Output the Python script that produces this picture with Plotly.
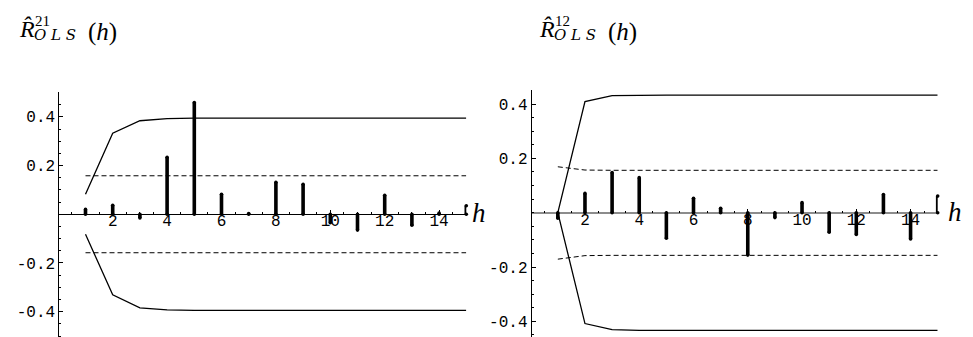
import numpy as np
import plotly.graph_objects as go

W, H = 973, 337
OFF = 8  # default page body margin

# lags
lags = list(range(1, 16))

# left panel: R^21_OLS(h)
r21 = [0.02, 0.037, -0.015, 0.234, 0.459, 0.082, 0.003, 0.131, 0.123,
       -0.035, -0.065, 0.078, -0.045, 0.005, 0.035]
band21_up = [0.082, 0.333, 0.384, 0.393, 0.395, 0.395, 0.395, 0.395,
             0.395, 0.395, 0.395, 0.395, 0.395, 0.395, 0.395]
band21_lo = [-0.082, -0.331, -0.384, -0.393, -0.395, -0.395, -0.395, -0.395,
             -0.395, -0.395, -0.395, -0.395, -0.395, -0.395, -0.395]
dash21_up = [0.158] * 15
dash21_lo = [-0.158] * 15

# right panel: R^12_OLS(h)
r12 = [-0.02, 0.071, 0.148, 0.129, -0.094, 0.053, 0.016, -0.156, -0.018,
       0.037, -0.072, -0.08, 0.067, -0.097, 0.061]
band12_up = [0.0, 0.409, 0.431, 0.433, 0.433, 0.433, 0.433, 0.433,
             0.433, 0.433, 0.433, 0.433, 0.433, 0.433, 0.433]
band12_lo = [0.0, -0.408, -0.430, -0.433, -0.433, -0.433, -0.433, -0.433,
             -0.433, -0.433, -0.433, -0.433, -0.433, -0.433, -0.433]
dash12_up = [0.169, 0.157, 0.156, 0.156, 0.156, 0.156, 0.156, 0.156,
             0.156, 0.156, 0.156, 0.156, 0.156, 0.156, 0.156]
dash12_lo = [-0.171, -0.158, -0.157, -0.157, -0.157, -0.157, -0.157, -0.157,
             -0.157, -0.157, -0.157, -0.157, -0.157, -0.157, -0.157]

x_ticks = [2, 4, 6, 8, 10, 12, 14]
y_ticks = [-0.4, -0.2, 0.2, 0.4]
y_ticktext = ["-0.4", "-0.2", "0.2", "0.4"]

MONO = "Liberation Mono"
SERIF = "Liberation Serif"


def px(x):
    return (x - OFF) / W


def py(y):
    return 1 - (y - OFF) / H


def stems(x, v):
    xs, ys = [], []
    for a, b in zip(x, v):
        xs += [a, a, None]
        ys += [0, b, None]
    return xs, ys


fig = go.Figure()

panels = [
    # axes, data, bands, x domain px, top/bottom px, y range, zero px, zero line style
    ("x", "y", r21, band21_up, band21_lo, dash21_up, dash21_lo,
     (58.3, 466.3), 92, 337, [-0.504, 0.502], 214.3, ("black", 1)),
    ("x2", "y2", r12, band12_up, band12_lo, dash12_up, dash12_lo,
     (530.7, 937.7), 90, 337, [-0.4575, 0.4516], 212.7, ("#8c8c8c", 2)),
]

for i, (xa, ya, vals, bu, bl, du, dl, xdom, top, bot, yr, zero, zl) in enumerate(panels):
    for band in (bu, bl):
        fig.add_trace(go.Scatter(x=lags, y=band, mode="lines", xaxis=xa, yaxis=ya,
                                 line=dict(color="black", width=1.3), cliponaxis=False))
    for band in (du, dl):
        fig.add_trace(go.Scatter(x=lags, y=band, mode="lines", xaxis=xa, yaxis=ya,
                                 line=dict(color="black", width=1, dash="5px,3px"),
                                 cliponaxis=False))
    sx, sy = stems(lags, vals)
    fig.add_trace(go.Scatter(x=sx, y=sy, mode="lines+markers", xaxis=xa, yaxis=ya,
                             line=dict(color="black", width=3.6),
                             marker=dict(color="black", size=3.6),
                             cliponaxis=False))

    # bottom of the y axis sits at the page edge; keep the scale by extending the range
    ylo = yr[0] - (yr[1] - yr[0]) * OFF / (bot - top)
    suffix = "" if i == 0 else "2"
    fig.layout["xaxis" + suffix] = dict(
        domain=[px(xdom[0]), px(xdom[1])], range=[0, 15],
        anchor="free", position=py(zero), side="bottom", automargin=False,
        showline=False, showgrid=False, zeroline=False,
        tickmode="array", tickvals=x_ticks, ticks="inside", ticklen=4,
        tickcolor="black", tickwidth=1, ticklabelstandoff=-5,
        minor=dict(tickmode="array", tickvals=list(np.arange(0.5, 15.01, 0.5)),
                   ticks="inside", ticklen=2, tickcolor="black", tickwidth=1),
        tickfont=dict(family=MONO, size=16, color="black"),
    )
    fig.layout["yaxis" + suffix] = dict(
        domain=[0, py(top)], range=[ylo, yr[1]],
        anchor="free", position=px(xdom[0]), side="left", automargin=False,
        showline=True, linecolor="black", linewidth=1, showgrid=False,
        zeroline=True, zerolinecolor=zl[0], zerolinewidth=zl[1],
        tickmode="array", tickvals=y_ticks, ticktext=y_ticktext,
        ticks="inside", ticklen=4, tickcolor="black", tickwidth=1,
        minor=dict(tickmode="array", tickvals=list(np.arange(-0.55, 0.51, 0.05)),
                   ticks="inside", ticklen=2, tickcolor="black", tickwidth=1),
        tickfont=dict(family=MONO, size=16, color="black"),
    )

# titles and axis letters
for dx, sup in ((0, "21"), (520, "12")):
    fig.add_annotation(text="<i>R\u0302</i>", x=px(17 + dx), y=py(29), xref="paper", yref="paper",
                       xanchor="left", yanchor="middle", showarrow=False,
                       font=dict(family=SERIF, size=24, color="black"))
    fig.add_annotation(text=sup, x=px(33 + dx), y=py(20.5), xref="paper", yref="paper",
                       xanchor="left", yanchor="middle", showarrow=False,
                       font=dict(family=SERIF, size=15, color="black"))
    fig.add_annotation(text="<i>O L S</i>", x=px(32 + dx), y=py(34.5), xref="paper", yref="paper",
                       xanchor="left", yanchor="middle", showarrow=False,
                       font=dict(family="DejaVu Serif", size=15, color="black"))
    fig.add_annotation(text="(<i>h</i>)", x=px(86 + dx), y=py(32), xref="paper", yref="paper",
                       xanchor="left", yanchor="middle", showarrow=False,
                       font=dict(family=SERIF, size=25, color="black"))

for hx, zero in ((470, 214.3), (946, 212.7)):
    fig.add_annotation(text="<i>h</i>", x=px(hx), y=py(zero - 1), xref="paper", yref="paper",
                       xanchor="left", yanchor="middle", showarrow=False,
                       font=dict(family=SERIF, size=27, color="black"))

fig.update_layout(
    width=W, height=H,
    margin=dict(l=0, r=0, t=0, b=0),
    showlegend=False,
    plot_bgcolor="white",
    paper_bgcolor="white",
)

fig.write_html("out.html")
